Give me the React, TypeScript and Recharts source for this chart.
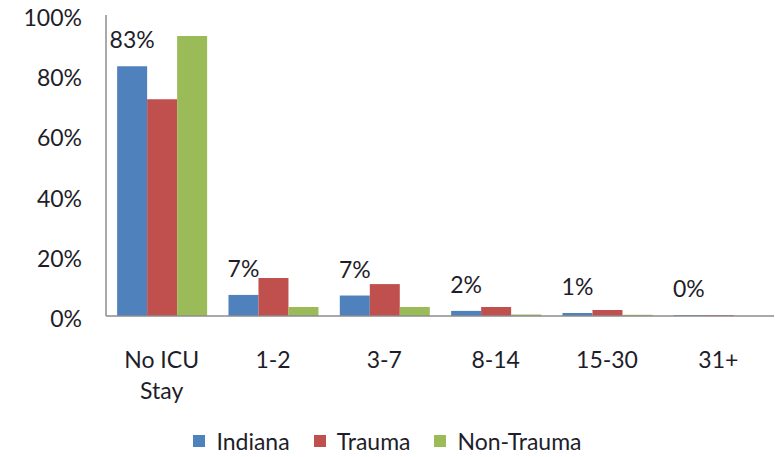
import React from "react";
import { BarChart, Bar, XAxis, YAxis, LabelList } from "recharts";

const categories = ["No ICU Stay", "1-2", "3-7", "8-14", "15-30", "31+"];
const indiana = [83, 7, 6.8, 1.7, 1.0, 0.3];
const trauma = [72, 12.6, 10.6, 3, 2, 0.3];
const nonTrauma = [93, 3, 3, 0.5, 0.4, 0];
const yTicks = [0, 20, 40, 60, 80, 100];

const seriesInfo = [
  { key: "indiana", name: "Indiana", color: "#4F81BD" },
  { key: "trauma", name: "Trauma", color: "#C0504D" },
  { key: "nonTrauma", name: "Non-Trauma", color: "#9BBB59" },
];

const data = categories.map((c, i) => ({
  cat: c,
  indiana: indiana[i],
  trauma: trauma[i],
  nonTrauma: nonTrauma[i],
}));

const FONT = "Lato, 'Open Sans', sans-serif";
const TEXT = "#1e1e2a";
const FS = 23;

const XTick = (props: any) => {
  const { x, y, payload } = props;
  const v: string = payload.value;
  let lines = [v];
  if (v.length > 6 && v.includes(" ")) {
    const k = v.lastIndexOf(" ");
    lines = [v.slice(0, k), v.slice(k + 1)];
  }
  return (
    <text x={x} y={y + 44} textAnchor="middle" fontSize={FS} fontFamily={FONT} fill={TEXT}>
      {lines.map((l, i) => (
        <tspan key={i} x={x} dy={i === 0 ? 0 : 31}>
          {l}
        </tspan>
      ))}
    </text>
  );
};

const YTick = (props: any) => {
  const { x, y, payload } = props;
  return (
    <text x={x} y={y + 11} textAnchor="end" fontSize={FS} fontFamily={FONT} fill={TEXT}>
      {payload.value}%
    </text>
  );
};

const TopLabel = (props: any) => {
  const { x, y, width, value } = props;
  return (
    <text x={x + width / 2} y={y - 18} textAnchor="middle" fontSize={FS} fontFamily={FONT} fill={TEXT}>
      {Math.round(value)}%
    </text>
  );
};

const LegendBox = () => (
  <div style={{ display: "flex", justifyContent: "center", alignItems: "center", height: 30, fontFamily: FONT, fontSize: FS, color: TEXT }}>
    {seriesInfo.map((s, i) => (
      <div key={s.key} style={{ display: "flex", alignItems: "center", marginLeft: i === 0 ? 0 : 24 }}>
        <span style={{ display: "inline-block", width: 12, height: 12, background: s.color, marginRight: 11 }} />
        <span>{s.name}</span>
      </div>
    ))}
  </div>
);

export default function App() {
  return (
    <div style={{ position: "absolute", left: 0, top: 0, width: 775, height: 457, background: "#fff" }}>
      <BarChart
        width={775}
        height={457}
        data={data}
        margin={{ top: 15, right: 1, bottom: 2, left: 0 }}
        barCategoryGap="10%"
        barGap={0}
      >
        <XAxis
          dataKey="cat"
          tick={<XTick />}
          tickLine={false}
          axisLine={{ stroke: "#8c8c8c", strokeWidth: 1.5 }}
          height={139}
          interval={0}
        />
        <YAxis
          domain={[0, 100]}
          ticks={yTicks}
          width={106}
          tick={<YTick />}
          tickLine={false}
          tickSize={0}
          tickMargin={24}
          axisLine={{ stroke: "#8c8c8c", strokeWidth: 1.5 }}
        />
        {seriesInfo.map((s) => (
          <Bar key={s.key} dataKey={s.key} name={s.name} fill={s.color} isAnimationActive={false}>
            {s.key === "indiana" && <LabelList dataKey="indiana" content={<TopLabel />} />}
          </Bar>
        ))}
      </BarChart>
      {/* legend drawn as html under the plot */}
      <div style={{ position: "absolute", left: 0, top: 426, width: 775 }}>
        <LegendBox />
      </div>
    </div>
  );
}
